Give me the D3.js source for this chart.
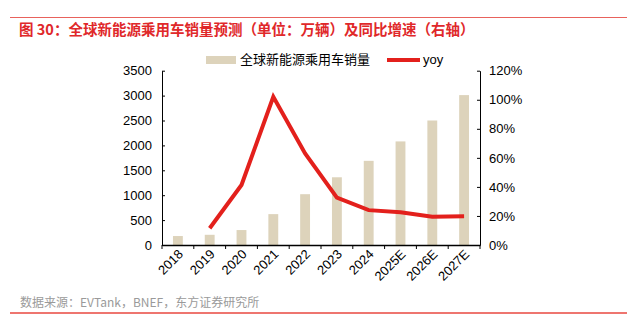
<!DOCTYPE html>
<html><head><meta charset="utf-8">
<script src="https://cdn.jsdelivr.net/npm/d3@7"></script>
<style>body{margin:0;background:#fff}svg{display:block}</style>
</head><body>
<svg id="c" width="627" height="328"></svg>
<script>
const categories = ["2018","2019","2020","2021","2022","2023","2024","2025E","2026E","2027E"];
const sales = [180, 205, 300, 620, 1020, 1360, 1690, 2080, 2500, 3010];
const yoy = [null, 0.115, 0.413, 1.02, 0.63, 0.326, 0.24, 0.225, 0.195, 0.198];
const leftTicks = [0,500,1000,1500,2000,2500,3000,3500];
const rightTicks = [0,0.2,0.4,0.6,0.8,1.0,1.2];
const title = "图 30：全球新能源乘用车销量预测（单位：万辆）及同比增速（右轴）";
const source = "数据来源：EVTank，BNEF，东方证券研究所";
const seriesNames = ["全球新能源乘用车销量","yoy"];

const svg = d3.select("#c");
const FONT = "'Liberation Sans', Arial, 'Noto Sans CJK SC', sans-serif";
const L = 162, R = 480, T = 70.7, B = 245;

svg.append("line").attr("x1",10).attr("x2",627).attr("y1",17.5).attr("y2",17.5).attr("stroke","#e8625c").attr("stroke-width",1);
svg.append("text").attr("x",19).attr("y",35).attr("fill","#e0282a").attr("font-size",14.5).attr("font-weight","bold")
  .attr("font-family","'Noto Sans CJK SC', sans-serif").text(title);

const x = d3.scaleBand().domain(categories).range([L,R]).paddingInner(0.69).paddingOuter(0.345);
const xb = d3.scaleBand().domain(categories).range([L,R]);
const yL = d3.scaleLinear().domain([0,3500]).range([B,T]);
const yR = d3.scaleLinear().domain([0,1.2]).range([B,T]);

svg.selectAll("rect.bar").data(categories).join("rect").attr("class","bar")
  .attr("x",d=>x(d)).attr("width",x.bandwidth())
  .attr("y",(d,i)=>yL(sales[i])).attr("height",(d,i)=>B-yL(sales[i]))
  .attr("fill","#ddd3bb");

const line = d3.line().defined(d=>d.v!=null).x(d=>xb(d.c)+xb.bandwidth()/2).y(d=>yR(d.v));
svg.append("path").datum(categories.map((c,i)=>({c,v:yoy[i]})))
  .attr("d",line).attr("fill","none").attr("stroke","#e3201c").attr("stroke-width",4).attr("stroke-linejoin","miter");

// axes
const gl = svg.append("g").attr("transform",`translate(${L},0)`)
  .call(d3.axisLeft(yL).tickValues(leftTicks).tickSizeInner(-3).tickSizeOuter(0).tickPadding(10).tickFormat(d3.format("d")));
const gr = svg.append("g").attr("transform",`translate(${R},0)`)
  .call(d3.axisRight(yR).tickValues(rightTicks).tickSizeInner(-3).tickSizeOuter(0).tickPadding(9).tickFormat(d=>Math.round(d*100)+"%"));
const gx = svg.append("g").attr("transform",`translate(0,${B})`)
  .call(d3.axisBottom(xb).tickSize(0).tickPadding(0));
gx.selectAll(".tick text").attr("text-anchor","end").attr("dx",0).attr("dy",0)
  .attr("transform","translate(6,10) rotate(-45)");
// x ticks between categories
svg.append("g").selectAll("line").data(d3.range(categories.length+1)).join("line")
  .attr("x1",i=>L+i*xb.step()).attr("x2",i=>L+i*xb.step()).attr("y1",B).attr("y2",B+4)
  .attr("stroke","#000").attr("stroke-width",1);

[gl,gr,gx].forEach(g=>{
  g.selectAll("text").attr("font-size",13).attr("font-family",FONT).attr("fill","#000");
  g.selectAll("path,line").attr("stroke","#000").attr("stroke-width",1);
});
gx.select(".domain").attr("stroke-width",1.5);

// legend
svg.append("rect").attr("x",206).attr("y",56).attr("width",30).attr("height",8).attr("fill","#ddd3bb");
svg.append("text").attr("x",240).attr("y",64).attr("font-size",13).attr("font-family",FONT).text(seriesNames[0]);
svg.append("line").attr("x1",387).attr("x2",420).attr("y1",60).attr("y2",60).attr("stroke","#e3201c").attr("stroke-width",4);
svg.append("text").attr("x",423).attr("y",64).attr("font-size",13).attr("font-family",FONT).text(seriesNames[1]);

// source
svg.append("text").attr("x",20).attr("y",307).attr("font-size",12).attr("fill","#9a9a9a")
  .attr("font-family","'Noto Sans CJK SC', sans-serif").text(source);
svg.append("line").attr("x1",10).attr("x2",627).attr("y1",313).attr("y2",313).attr("stroke","#e8473f").attr("stroke-width",1.5);
</script>
</body></html>
